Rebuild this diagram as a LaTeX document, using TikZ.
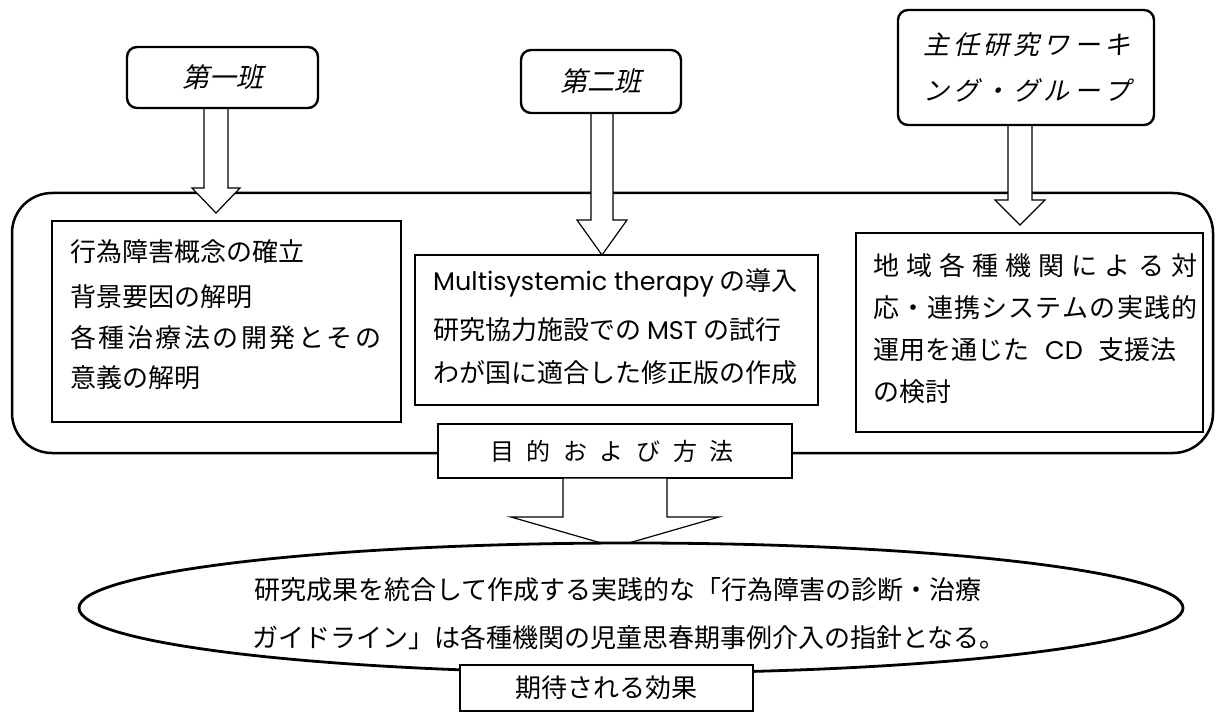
\documentclass[tikz,border=0pt]{standalone}
\usepackage{fontspec}
\usetikzlibrary{shapes.geometric}
\setmainfont{Noto Sans CJK JP}
\newfontfamily\lat{Poppins}
\newfontfamily\jit[FakeSlant=0.22]{Noto Sans CJK JP}
\newcommand\fsz[1]{\fontsize{#1}{#1}\selectfont}
\def\spreadend{\spreadend}
\def\spreadi#1{\ifx\spreadend#1\else\hfil{#1}\expandafter\spreadi\fi}
\def\spreadii#1{{#1}\spreadi}
\newcommand\spreadto[2]{\hbox to #1{\spreadii#2\spreadend}}
\begin{document}
\begin{tikzpicture}[x=1pt,y=-1pt,line join=miter,
  headbox/.style={draw,line width=2.4pt,rounded corners=10pt,fill=white,inner sep=0},
  inbox/.style={draw,line width=1.3pt,inner sep=0},
  labbox/.style={draw,line width=1.5pt,fill=white,inner sep=0},
  blockarr/.style={draw,line width=1.2pt,fill=white},
  txt/.style={inner sep=0,anchor=west,font=\fsz{26pt}},
  ctxt/.style={inner sep=0,font=\fsz{26pt}}]
\useasboundingbox (0,0) rectangle (1216,714);
% outer rounded frame
\node[draw,line width=2.5pt,rounded corners=40pt,inner sep=0,minimum width=1201pt,minimum height=260pt] (frame) at (612.5,323) {};
% inner boxes
\node[inbox,minimum width=349pt,minimum height=201pt] (b1) at (226.5,321.5) {};
\node[inbox,minimum width=403pt,minimum height=150pt] (b2) at (616.5,330) {};
\node[inbox,minimum width=347pt,minimum height=199pt] (b3) at (1029.5,332.5) {};
% texts box 1
\node[txt] (t11) at (70,252) {行為障害概念の確立};
\node[txt] (t12) at (70,297) {背景要因の解明};
\node[txt] (t13) at (70,338) {\spreadto{311pt}{各種治療法の開発とその}};
\node[txt] (t14) at (70,378) {意義の解明};
% texts box 2
\node[txt] (t21) at (433,283) {{\lat\fsz{25.5pt}Multisystemic therapy} の導入};
\node[txt] (t22) at (433,330) {研究協力施設での {\lat\fsz{25.5pt}MST} の試行};
\node[txt] (t23) at (433,373) {わが国に適合した修正版の作成};
% texts box 3
\node[txt] (t31) at (873,266) {\spreadto{324pt}{地域各種機関による対}};
\node[txt] (t32) at (873,308) {\spreadto{324pt}{応・連携システムの実践的}};
\node[txt] (t33) at (873,350) {運用を通じた\hspace{16pt}{\lat\fsz{25.5pt}CD}\hspace{16pt}支援法};
\node[txt] (t34) at (873,392) {の検討};
% block arrows from heads
\draw[blockarr] (204,108) -- (204,188) -- (192,188) -- (216,213) -- (240,188) -- (228,188) -- (228,108) -- cycle;
\draw[blockarr] (591,113) -- (591,220) -- (577,220) -- (602,255) -- (627,220) -- (613,220) -- (613,113) -- cycle;
\draw[blockarr] (1008,125) -- (1008,200) -- (995,200) -- (1020,225) -- (1045,200) -- (1032,200) -- (1032,125) -- cycle;
% head boxes
\node[headbox,minimum width=191pt,minimum height=61pt] (h1) at (222.5,77.5) {};
\node[ctxt,font=\fsz{27pt}\jit] at (h1.center) {第一班};
\node[headbox,minimum width=160pt,minimum height=63pt] (h2) at (601,81.5) {};
\node[ctxt,font=\fsz{27pt}\jit] at (h2.center) {第二班};
\node[headbox,minimum width=256pt,minimum height=115pt] (h3) at (1026,67.5) {};
\node[txt,font=\fsz{26pt}\jit] (h3a) at (923,45) {\spreadto{207pt}{主任研究ワーキ}};
\node[txt,font=\fsz{26pt}\jit] (h3b) at (923,90) {\spreadto{207pt}{ング・グループ}};
% purpose label
\node[labbox,minimum width=354pt,minimum height=54pt] (purp) at (615,451) {};
\node[ctxt,font=\fsz{24pt}] at (612,451) {\spreadto{243pt}{目的および方法}};
% big arrow
\draw[blockarr] (563,478) -- (563,517) -- (511,517) -- (615,547) -- (719,517) -- (667,517) -- (667,478) -- cycle;
% ellipse
\node[draw,ellipse,line width=2.8pt,fill=white,inner sep=0,minimum width=1104pt,minimum height=130pt] (ell) at (631,608) {};
\node[txt] (e1) at (254,590) {研究成果を統合して作成する実践的な「行為障害の診断・治療};
\node[txt] (e2) at (252,638) {ガイドライン」は各種機関の児童思春期事例介入の指針となる。};
% effect label
\node[labbox,minimum width=293pt,minimum height=46pt] (eff) at (606.5,688) {};
\node[ctxt] at (eff.center) {期待される効果};
\end{tikzpicture}
\end{document}
